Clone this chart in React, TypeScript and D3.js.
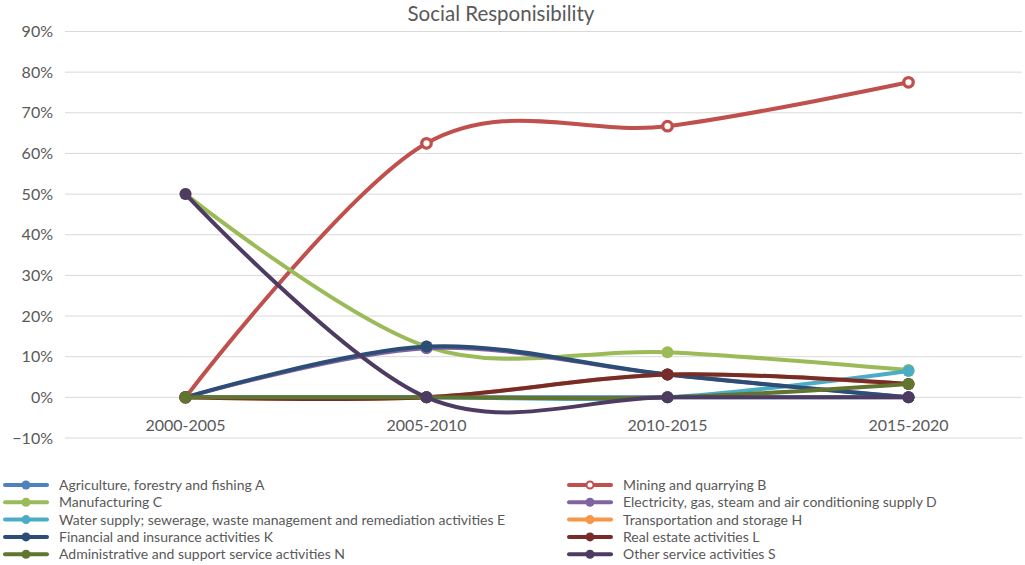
import React from "react";
import * as d3 from "d3";

const periods = ["2000-2005", "2005-2010", "2010-2015", "2015-2020"];
const yTicks = [-0.1, 0, 0.1, 0.2, 0.3, 0.4, 0.5, 0.6, 0.7, 0.8, 0.9];

const agriculture = [0, 0, 0, 0];
const mining = [0, 0.625, 0.667, 0.775];
const manufacturing = [0.5, 0.125, 0.111, 0.067];
const electricity = [0, 0.121, 0.056, 0];
const water = [0, 0, 0, 0.065];
const transport = [0, 0, 0.056, 0.033];
const financial = [0, 0.125, 0.056, 0];
const realEstate = [0, 0, 0.056, 0.033];
const admin = [0, 0, 0, 0.033];
const otherServices = [0.5, 0, 0, 0];

type Series = { name: string; values: number[]; color: string; hollow?: boolean };

const series: Series[] = [
  { name: "Agriculture, forestry and fishing A", values: agriculture, color: "#4F81BD" },
  { name: "Mining and quarrying B", values: mining, color: "#C0504D", hollow: true },
  { name: "Manufacturing C", values: manufacturing, color: "#9BBB59" },
  { name: "Electricity, gas, steam and air conditioning supply D", values: electricity, color: "#8064A2" },
  { name: "Water supply; sewerage, waste management and remediation activities E", values: water, color: "#4BACC6" },
  { name: "Transportation and storage H", values: transport, color: "#F79646" },
  { name: "Financial and insurance activities K", values: financial, color: "#2C4D75" },
  { name: "Real estate activities L", values: realEstate, color: "#772C2A" },
  { name: "Administrative and support service activities N", values: admin, color: "#5F7530" },
  { name: "Other service activities S", values: otherServices, color: "#4D3B62" },
];

const FONT = "Lato, 'Open Sans', sans-serif";
const TEXT = "#595959";

export default function App() {
  const W = 1025;
  const H = 565;
  const x = d3.scaleBand<string>().domain(periods).range([65, 1029]);
  const cx = (p: string) => (x(p) ?? 0) + x.bandwidth() / 2;
  const y = d3.scaleLinear().domain([-0.1, 0.9]).range([438, 31.5]);
  const fmt = d3.format(".0%");

  // Smoothed lines: cardinal spline with zero tension (Catmull-Rom style)
  const line = d3
    .line<number>()
    .x((_, i) => cx(periods[i]))
    .y((v) => y(v))
    .curve(d3.curveCardinal.tension(0));

  const legendRowY = (i: number) => 485 + Math.floor(i / 2) * 17.3;
  const legendColX = (i: number) => (i % 2 === 0 ? 5 : 569);

  return (
    <div style={{ position: "absolute", left: 0, top: 0 }}>
      <svg width={W} height={H} style={{ display: "block", background: "#fff" }}>
        <text x={501} y={21} textAnchor="middle" fontFamily={FONT} fontSize={20.5} fill={TEXT}>
          Social Responisibility
        </text>
        {yTicks.map((t) => (
          <g key={t}>
            <line x1={65} x2={1022} y1={y(t)} y2={y(t)} stroke="#D9D9D9" strokeWidth={1} />
            <text
              x={53}
              y={y(t)}
              dy="0.35em"
              textAnchor="end"
              fontFamily={FONT}
              fontSize={16}
              fill={TEXT}
            >
              {fmt(t)}
            </text>
          </g>
        ))}
        {periods.map((p) => (
          <text
            key={p}
            x={cx(p)}
            y={431}
            textAnchor="middle"
            fontFamily={FONT}
            fontSize={16}
            fill={TEXT}
          >
            {p}
          </text>
        ))}
        {series.map((s) => (
          <g key={s.name}>
            <path
              d={line(s.values) ?? ""}
              fill="none"
              stroke={s.color}
              strokeWidth={4}
              strokeLinecap="round"
            />
            {s.values.map((v, i) => (
              <circle
                key={i}
                cx={cx(periods[i])}
                cy={y(v)}
                r={s.hollow ? 4.75 : 6}
                fill={s.hollow ? "#fff" : s.color}
                stroke={s.color}
                strokeWidth={s.hollow ? 3.3 : 0}
              />
            ))}
          </g>
        ))}
        {series.map((s, i) => {
          const lx = legendColX(i);
          const ly = legendRowY(i);
          return (
            <g key={"lg" + s.name}>
              <line x1={lx} x2={lx + 42} y1={ly} y2={ly} stroke={s.color} strokeWidth={4} strokeLinecap="round" />
              <circle
                cx={lx + 21}
                cy={ly}
                r={s.hollow ? 3.5 : 4.5}
                fill={s.hollow ? "#fff" : s.color}
                stroke={s.color}
                strokeWidth={s.hollow ? 2 : 0}
              />
              <text x={lx + 54} y={ly} dy="0.35em" fontFamily={FONT} fontSize={14} fill={TEXT}>
                {s.name}
              </text>
            </g>
          );
        })}
      </svg>
    </div>
  );
}
